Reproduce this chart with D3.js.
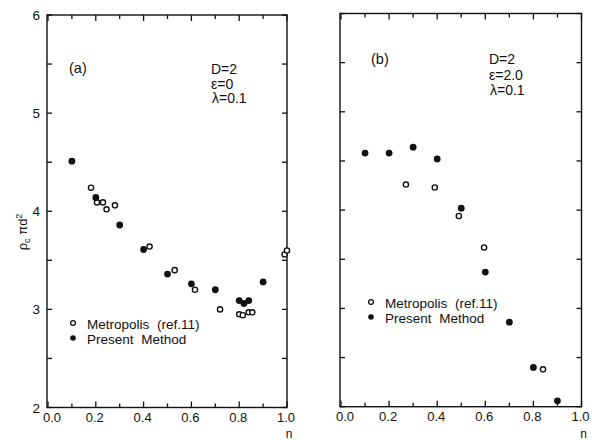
<!DOCTYPE html>
<html>
<head>
<meta charset="utf-8">
<script src="https://cdn.jsdelivr.net/npm/d3@7"></script>
<style>
  body { margin: 0; background: #fff; }
  svg text { font-family: "Liberation Sans", Arial, sans-serif; fill: #111; }
</style>
</head>
<body>
<svg id="chart" width="592" height="440"></svg>
<script>
// panel (a): D=2, eps=0, lambda=0.1
const presentA_n = [0.10, 0.20, 0.30, 0.40, 0.50, 0.60, 0.70, 0.80, 0.82, 0.84, 0.90];
const presentA_rho = [4.51, 4.14, 3.86, 3.61, 3.36, 3.26, 3.20, 3.09, 3.06, 3.09, 3.28];
const metroA_n = [0.18, 0.205, 0.23, 0.245, 0.28, 0.425, 0.53, 0.615, 0.72, 0.80, 0.815, 0.84, 0.855, 0.99, 1.0];
const metroA_rho = [4.24, 4.09, 4.09, 4.02, 4.06, 3.64, 3.40, 3.20, 3.00, 2.95, 2.94, 2.97, 2.97, 3.56, 3.60];

// panel (b): D=2, eps=2.0, lambda=0.1
const presentB_n = [0.10, 0.20, 0.30, 0.40, 0.50, 0.60, 0.70, 0.80, 0.90];
const presentB_rho = [4.58, 4.58, 4.64, 4.52, 4.02, 3.37, 2.86, 2.40, 2.06];
const metroB_n = [0.27, 0.39, 0.49, 0.595, 0.84];
const metroB_rho = [4.26, 4.23, 3.94, 3.62, 2.38];

const xTicks = [0, 0.2, 0.4, 0.6, 0.8, 1.0];
const xMinor = [0.1, 0.3, 0.5, 0.7, 0.9];
const yTicks = [2, 3, 4, 5, 6];
const yMinor = [2.5, 3.5, 4.5, 5.5];

const svg = d3.select("#chart");

const panels = [
  {
    left: 47, right: 287, top: 15, bottom: 407.5,
    present: presentA_n.map((n, i) => [n, presentA_rho[i]]),
    metro: metroA_n.map((n, i) => [n, metroA_rho[i]]),
    yLabels: true,
    tag: "(a)", tagPos: [69, 73],
    params: ["D=2", "ε=0", "λ=0.1"], paramX: [211, 211, 212], paramY: 74, paramStep: 14.5,
    legend: [73, 323]
  },
  {
    left: 340, right: 581.5, top: 13.5, bottom: 406.7,
    present: presentB_n.map((n, i) => [n, presentB_rho[i]]),
    metro: metroB_n.map((n, i) => [n, metroB_rho[i]]),
    yLabels: false,
    tag: "(b)", tagPos: [371, 64],
    params: ["D=2", "ε=2.0", "λ=0.1"], paramX: [489, 489, 490], paramY: 64, paramStep: 15.5,
    legend: [371, 302]
  }
];

panels.forEach((p) => {
  const x = d3.scaleLinear().domain([0, 1]).range([p.left + 1, p.right]);
  const y = d3.scaleLinear().domain([2, 6]).range([p.bottom, p.top]);
  const g = svg.append("g");

  // frame
  g.append("rect")
    .attr("x", p.left).attr("y", p.top)
    .attr("width", p.right - p.left).attr("height", p.bottom - p.top)
    .attr("fill", "none").attr("stroke", "#111").attr("stroke-width", 1.4);

  // x ticks (bottom + top, inward)
  const xt = [...xTicks.map((v) => [v, 6]), ...xMinor.map((v) => [v, 4])];
  xt.forEach(([v, len]) => {
    g.append("line").attr("x1", x(v)).attr("x2", x(v))
      .attr("y1", p.bottom).attr("y2", p.bottom - len)
      .attr("stroke", "#111").attr("stroke-width", 1.3);
    g.append("line").attr("x1", x(v)).attr("x2", x(v))
      .attr("y1", p.top).attr("y2", p.top + len)
      .attr("stroke", "#111").attr("stroke-width", 1.3);
  });
  const yt = [...yTicks, ...yMinor];
  yt.forEach((v) => {
    g.append("line").attr("x1", p.left).attr("x2", p.left + 5)
      .attr("y1", y(v)).attr("y2", y(v))
      .attr("stroke", "#111").attr("stroke-width", 1.3);
    g.append("line").attr("x1", p.right).attr("x2", p.right - 5)
      .attr("y1", y(v)).attr("y2", y(v))
      .attr("stroke", "#111").attr("stroke-width", 1.3);
  });

  // x tick labels
  g.selectAll(".xl").data(xTicks).enter().append("text")
    .attr("x", (d) => x(d) + (d === 0 ? 4 : -1)).attr("y", p.bottom + 14)
    .attr("text-anchor", "middle").attr("font-size", 13)
    .text((d) => d3.format(".1f")(d));

  if (p.yLabels) {
    g.selectAll(".yl").data(yTicks).enter().append("text")
      .attr("x", p.left - 7).attr("y", (d) => y(d) + 5)
      .attr("text-anchor", "end").attr("font-size", 13.5)
      .text((d) => d);
  }

  // x axis label (sits at the bottom edge)
  g.append("text").attr("x", p.right + 2).attr("y", 438)
    .attr("text-anchor", "middle").attr("font-size", 12).text("n");

  // annotations
  g.append("text").attr("x", p.tagPos[0]).attr("y", p.tagPos[1])
    .attr("font-size", 14.5).text(p.tag);
  p.params.forEach((t, i) => {
    g.append("text").attr("x", p.paramX[i]).attr("y", p.paramY + i * p.paramStep)
      .attr("font-size", 14).text(t);
  });

  // data
  g.selectAll(".metro").data(p.metro).enter().append("circle")
    .attr("cx", (d) => x(d[0])).attr("cy", (d) => y(d[1])).attr("r", 2.6)
    .attr("fill", "#fff").attr("stroke", "#111").attr("stroke-width", 1.4);
  g.selectAll(".present").data(p.present).enter().append("circle")
    .attr("cx", (d) => x(d[0])).attr("cy", (d) => y(d[1])).attr("r", 3.4)
    .attr("fill", "#111");

  // legend
  const [lx, ly] = p.legend;
  g.append("circle").attr("cx", lx).attr("cy", ly).attr("r", 2.4)
    .attr("fill", "#fff").attr("stroke", "#111").attr("stroke-width", 1.3);
  g.append("circle").attr("cx", lx).attr("cy", ly + 15).attr("r", 2.8)
    .attr("fill", "#111");
  g.append("text").attr("x", lx + 14).attr("y", ly + 6)
    .attr("font-size", 13.5).attr("word-spacing", 4).text("Metropolis (ref.11)");
  g.append("text").attr("x", lx + 14).attr("y", ly + 20.5)
    .attr("font-size", 13.5).attr("word-spacing", 4).text("Present Method");
});

// y axis label
const yl = svg.append("text")
  .attr("transform", "translate(27,232) rotate(-90)")
  .attr("text-anchor", "middle").attr("font-size", 13);
yl.append("tspan").text("ρ");
yl.append("tspan").attr("font-size", 9).attr("dy", 3).text("c");
yl.append("tspan").attr("dy", -3).text(" πd");
yl.append("tspan").attr("font-size", 9).attr("dy", -5).text("2");
</script>
</body>
</html>
